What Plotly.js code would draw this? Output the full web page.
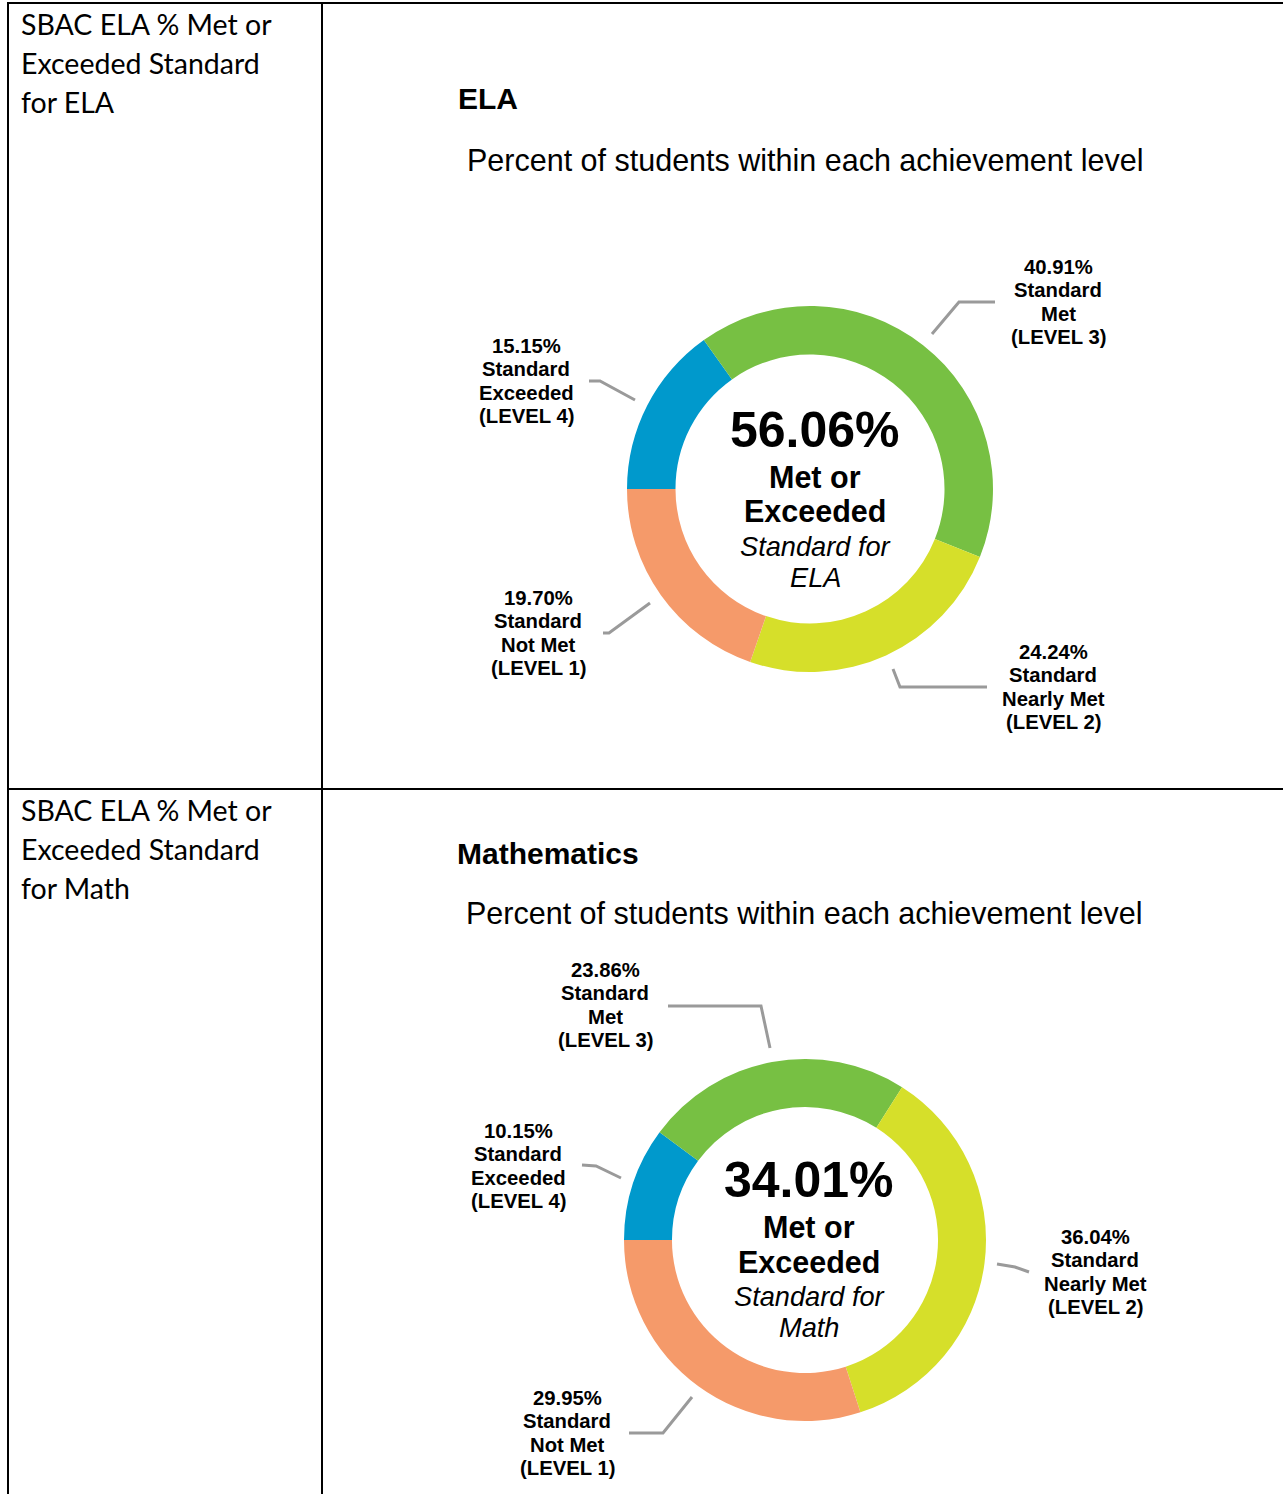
<!DOCTYPE html>
<html>
<head>
<meta charset="utf-8">
<script src="https://cdn.plot.ly/plotly-3.0.1.min.js"></script>
<style>
  html, body { margin: 0; padding: 0; background: #fff; }
  #chart { width: 1283px; height: 1494px; }
</style>
</head>
<body>
<div id="chart"></div>
<script>
// ---------- data ----------
const levelNames = [
  ["Standard", "Not Met", "(LEVEL 1)"],
  ["Standard", "Nearly Met", "(LEVEL 2)"],
  ["Standard", "Met", "(LEVEL 3)"],
  ["Standard", "Exceeded", "(LEVEL 4)"]
];
const levelColors = ["#F59A6A", "#D6DF2A", "#77C043", "#0099CC"];
const elaValues = [19.70, 24.24, 40.91, 15.15];
const mathValues = [29.95, 36.04, 23.86, 10.15];
const rowLabels = [
  ["SBAC ELA % Met or", "Exceeded Standard", "for ELA"],
  ["SBAC ELA % Met or", "Exceeded Standard", "for Math"]
];
const chartTitles = ["ELA", "Mathematics"];
const subTitle = "Percent of students within each achievement level";
const centerSubject = ["ELA", "Math"];

// ---------- layout helpers (pixel -> paper) ----------
const W = 1283, H = 1494;
const px = x => x / W;
const py = y => 1 - y / H;

const panels = [
  {
    values: elaValues, subject: centerSubject[0], title: chartTitles[0],
    cx: 810, cy: 489, r: 183,
    titleY: 98, titleX: 456, subX: 465, subY: 160,
    centerX: 815, centerYs: [430, 477, 511, 546, 578],
    labels: [
      {x: 538, y: 598, line: [[603,633],[609,633],[650,603]]},
      {x: 1053, y: 652, line: [[893,669],[900,687],[987,687]]},
      {x: 1058, y: 267, line: [[932,334],[959,302],[995,302]]},
      {x: 526, y: 346, line: [[589,381],[600,381],[635,400]]}
    ]
  },
  {
    values: mathValues, subject: centerSubject[1], title: chartTitles[1],
    cx: 805, cy: 1240, r: 181,
    titleY: 853, titleX: 455, subX: 464, subY: 913,
    centerX: 809, centerYs: [1180, 1227, 1262, 1296, 1327],
    labels: [
      {x: 567, y: 1398, line: [[629,1433],[663,1433],[692,1397]]},
      {x: 1095, y: 1237, line: [[997,1264],[1015,1267],[1029,1272]]},
      {x: 605, y: 970, line: [[668,1006],[761,1006],[770,1048]]},
      {x: 518, y: 1131, line: [[582,1165],[596,1166],[621,1178]]}
    ]
  }
];

const traces = [];
const annotations = [];
const shapes = [];
const FONT = "Liberation Sans, Arial, sans-serif";

panels.forEach((p, i) => {
  // drawn clockwise from 9 o'clock: LEVEL 4, 3, 2, 1
  const order = [3, 2, 1, 0];
  traces.push({
    type: "pie",
    values: order.map(k => p.values[k]),
    labels: order.map(k => levelNames[k].join(" ")),
    marker: {colors: order.map(k => levelColors[k]), line: {width: 0}},
    sort: false,
    direction: "clockwise",
    rotation: -90,
    hole: 0.735,
    textinfo: "none",
    hoverinfo: "label+value",
    showlegend: false,
    domain: {
      x: [px(p.cx - p.r), px(p.cx + p.r)],
      y: [py(p.cy + p.r), py(p.cy - p.r)]
    }
  });

  // titles
  annotations.push({
    xref: "paper", yref: "paper", x: px(p.titleX), y: py(p.titleY),
    xanchor: "left", yanchor: "middle", showarrow: false,
    text: "<b>" + p.title + "</b>",
    font: {family: FONT, size: 30, color: "#000"}
  });
  annotations.push({
    xref: "paper", yref: "paper", x: px(p.subX), y: py(p.subY),
    xanchor: "left", yanchor: "middle", showarrow: false,
    text: subTitle,
    font: {family: FONT, size: 30.5, color: "#000"}
  });

  // center text
  const metOrExceeded = p.values[2] + p.values[3];
  const centerLines = [
    {t: "<b>" + metOrExceeded.toFixed(2) + "%</b>", s: 50},
    {t: "<b>Met or</b>", s: 30.5},
    {t: "<b>Exceeded</b>", s: 30.5},
    {t: "<i>Standard for</i>", s: 27.2},
    {t: "<i>" + p.subject + "</i>", s: 27.2}
  ];
  centerLines.forEach((c, k) => {
    annotations.push({
      xref: "paper", yref: "paper", x: px(p.centerX), y: py(p.centerYs[k]),
      xanchor: "center", yanchor: "middle", showarrow: false,
      text: c.t, font: {family: FONT, size: c.s, color: "#000"}
    });
  });

  // slice labels + leader lines
  p.labels.forEach((L, j) => {
    const lines = [p.values[j].toFixed(2) + "%"].concat(levelNames[j]);
    lines.forEach((t, k) => {
      annotations.push({
        xref: "paper", yref: "paper", x: px(L.x), y: py(L.y + k * 23.4),
        xanchor: "center", yanchor: "middle", showarrow: false,
        text: "<b>" + t + "</b>",
        font: {family: FONT, size: 20.3, color: "#000"}
      });
    });
    const path = L.line.map((pt, k) => (k === 0 ? "M" : "L") + px(pt[0]) + "," + py(pt[1])).join(" ");
    shapes.push({
      type: "path", xref: "paper", yref: "paper", path: path,
      line: {color: "#9A9A9A", width: 3}
    });
  });

  // row labels
  const rowY0 = i === 0 ? 24 : 810;
  rowLabels[i].forEach((t, k) => {
    annotations.push({
      xref: "paper", yref: "paper", x: px(19), y: py(rowY0 + k * 39),
      xanchor: "left", yanchor: "middle", showarrow: false,
      text: t, font: {family: "Lato, Open Sans, sans-serif", size: 28.5, color: "#000"}
    });
  });
});

// table borders
const border = {color: "#000", width: 2};
shapes.push({type: "line", xref: "paper", yref: "paper", x0: px(7), x1: 1, y0: py(3), y1: py(3), line: border});
shapes.push({type: "line", xref: "paper", yref: "paper", x0: px(7), x1: 1, y0: py(789), y1: py(789), line: border});
shapes.push({type: "line", xref: "paper", yref: "paper", x0: px(8), x1: px(8), y0: py(2), y1: 0, line: border});
shapes.push({type: "line", xref: "paper", yref: "paper", x0: px(322), x1: px(322), y0: py(2), y1: 0, line: border});

const layout = {
  width: W, height: H,
  margin: {l: 0, r: 0, t: 0, b: 0},
  paper_bgcolor: "#fff",
  plot_bgcolor: "#fff",
  annotations: annotations,
  shapes: shapes,
  showlegend: false
};

Plotly.newPlot("chart", traces, layout, {displayModeBar: false, staticPlot: true});
</script>
</body>
</html>
